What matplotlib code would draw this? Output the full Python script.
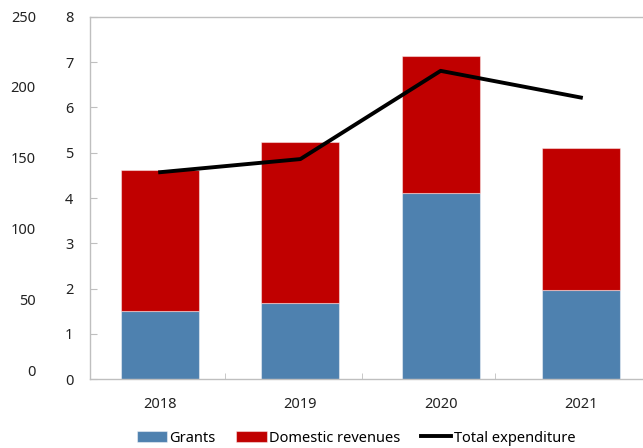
import matplotlib.pyplot as plt
import numpy as np

years = ['2018', '2019', '2020', '2021']
grants = [1.50, 1.68, 4.11, 1.97]
domestic = [3.12, 3.56, 3.03, 3.13]
expenditure = [4.57, 4.86, 6.81, 6.22]
left_ticks = [0, 50, 100, 150, 200, 250]

plt.rcParams['font.family'] = ['Noto Sans', 'DejaVu Sans']
plt.rcParams['font.size'] = 10.5

W, H = 643, 448
fig = plt.figure(figsize=(W / 100, H / 100), dpi=100)
ax = fig.add_axes([90 / W, (H - 379) / H, (651 - 90) / W, (379 - 17) / H])

x = np.arange(len(years))
blue = '#4E81AF'
red = '#C00000'
edge = (1, 1, 1, 0.45)
b1 = ax.bar(x, grants, width=0.555, color=blue, edgecolor=edge, linewidth=0.8, label='Grants')
b2 = ax.bar(x, domestic, width=0.555, bottom=grants, color=red, edgecolor=edge, linewidth=0.8,
            label='Domestic revenues')
ln, = ax.plot(x, expenditure, color='black', linewidth=2.8, label='Total expenditure')

ax.set_xlim(-0.5, 3.5)
ax.set_ylim(0, 8)
ax.set_yticks(range(0, 9))
ax.set_xticks(x)
ax.set_xticklabels(years)
ax.set_xticks([0.46, 1.44, 2.39], minor=True)

for s in ['left', 'top', 'bottom']:
    ax.spines[s].set_color('#BFBFBF')
    ax.spines[s].set_linewidth(1.0)
ax.spines['right'].set_visible(False)
ax.tick_params(axis='y', direction='in', length=5, color='#BFBFBF', pad=12, labelcolor='#222222')
ax.tick_params(axis='x', which='major', length=0, pad=13, labelcolor='#222222')
ax.tick_params(axis='x', which='minor', direction='in', length=4, color='#BFBFBF')

# outer left scale (labels only)
ax2 = fig.add_axes([90 / W, (H - 370) / H, (651 - 90) / W, (370 - 16) / H], frameon=False)
ax2.set_ylim(0, 250)
ax2.set_yticks(left_ticks)
ax2.set_xticks([])
ax2.tick_params(axis='y', length=0, pad=39, labelcolor='#222222')
ax2.patch.set_visible(False)

fig.legend([b1, b2, ln], ['Grants', 'Domestic revenues', 'Total expenditure'], loc='center',
           bbox_to_anchor=(356 / W, 1 - 438 / H), ncol=3,
           frameon=False, handlelength=2.1, handletextpad=0.15, columnspacing=1.4,
           borderaxespad=0)

fig.savefig('out.png', dpi=100)
